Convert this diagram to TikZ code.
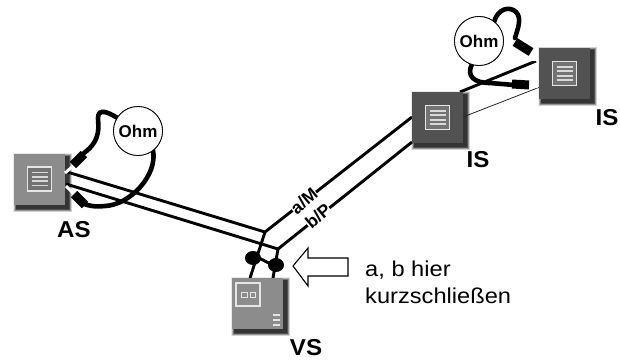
\documentclass[tikz,border=0pt]{standalone}
\usepackage{fontspec}
\setmainfont{Liberation Sans}
\usetikzlibrary{calc}
\tikzset{
 devlight/.style={draw=none,fill=black!45,minimum size=51pt,inner sep=0pt,outer sep=0pt},
 devdark/.style={draw=none,fill=black!68,minimum size=51pt,inner sep=0pt,outer sep=0pt},
 wire/.style={line width=2.9pt,black},
 thinwire/.style={line width=0.8pt,black!85},
 cable/.style={line width=4.6pt,black,line cap=round},
 plug/.style={line width=9pt,black},
 tip/.style={line width=3pt,white},
 ohmc/.style={circle,draw=black,line width=0.8pt,fill=white,minimum size=49pt,inner sep=0pt,font=\bfseries\fontsize{17}{17}\selectfont},
 lab/.style={font=\bfseries\fontsize{23}{23}\selectfont,inner sep=0pt,xscale=1.05},
 wirelab/.style={font=\bfseries\fontsize{17.5}{17.5}\selectfont,inner sep=0.2pt,rotate=40,fill=white},
 txt/.style={font=\fontsize{21.5}{21.5}\selectfont,inner sep=0pt,anchor=base west,xscale=1.1},
 arrowbox/.style={draw=black,line width=1.1pt,fill=white,line join=miter},
 iconframe/.style={draw=white!90!black,line width=1.7pt},
 iconbar/.style={white!85!black,line width=1.7pt}
}
\newcommand{\devshadow}[2]{%
 \foreach \d/\o in {8/0.08,7/0.10,6/0.14,5/0.18,4/0.22,3/0.30,2/0.35}{%
  \fill[black,opacity=\o] ({#1+3-\d/2},{#2+3-\d/2}) rectangle ({#1+51+3+\d/2},{#2+51+3+\d/2});}}
\newcommand{\listicon}[1]{%
 \fill[black!55] ($(#1)+(-12pt,-12pt)$) rectangle ($(#1)+(12pt,12pt)$);
 \draw[iconframe] ($(#1)+(-12pt,-12pt)$) rectangle ($(#1)+(12pt,12pt)$);
 \foreach \s in {-6.6,-2.2,2.2,6.6}{\draw[iconbar] ($(#1)+(-8pt,\s pt)$) -- ($(#1)+(8pt,\s pt)$);}}
\begin{document}
\begin{tikzpicture}[x=1pt,y=-1pt]
\useasboundingbox (0,0) rectangle (620,361);
% shadows
\devshadow{14}{154}
\devshadow{232}{278}
\devshadow{412}{92}
\devshadow{539}{48}
% junctions and free ends
\coordinate (ja) at (265,232);
\coordinate (jb) at (278,249);
\coordinate (asa) at (64,171);
\coordinate (asb) at (66,184);
\coordinate (isa) at (412,117);
\coordinate (isb) at (412,142);
\coordinate (is2a) at (536,61);
\coordinate (is2b) at (540,87);
\coordinate (isat) at (460,92);
\coordinate (isbt) at (463,117);
\coordinate (vsa) at (250,278);
\coordinate (vsb) at (273,278);
% wires
\draw[wire] (asa) -- (ja);
\draw[wire] (asb) -- (jb);
\draw[wire] (ja) -- (isa);
\draw[wire] (jb) -- (isb);
\draw[wire] (isat) -- (is2a);
\draw[thinwire] (isbt) -- (is2b);
\draw[wire] (ja) -- (vsa);
\draw[wire] (jb) -- (vsb);
% short-circuit
\fill[black] (253,258) ellipse (8 and 7);
\fill[black] (276,265) ellipse (8 and 7);
\draw[line width=3pt] (253,258) .. controls (262,256) and (265,264) .. (276,265);
% devices
\node[devlight] (as) at (39.5,179) {};
\node[devlight] (vs) at (257.5,303) {};
\node[devdark] (is1) at (437.5,117.5) {};
\node[devdark] (is2) at (564.5,73.5) {};
\listicon{as}
\listicon{is1}
\listicon{is2}
\draw[iconframe] (236,283) rectangle (260,306);
\draw[white!90!black,line width=1pt] (241,292) rectangle (247,297);
\draw[white!90!black,line width=1pt] (250,292) rectangle (255,297);
\foreach \s in {315,320,325}{\draw[white!90!black,line width=1.8pt] (273,\s) -- (280,\s);}
% wire labels
\node[wirelab] (am) at (304,201) {a/M};
\node[wirelab] (bp) at (318,216) {b/P};
% Ohm meters
\node[ohmc] (ohm1) at (138,131) {Ohm};
\node[ohmc] (ohm2) at (479,41) {Ohm};
% AS leads
\draw[cable] (84,153) .. controls (102,140) and (98,125) .. (98,118) .. controls (98,108) and (108,112) .. (ohm1);
\draw[cable] (153,150) .. controls (158,175) and (130,205) .. (105,206) .. controls (95,207) and (88,206) .. (82,203);
\node[ohmc] at (ohm1) {Ohm};
\draw[plug] (73,165) -- (84,154);
\draw[plug] (74,194) -- (85,205);
\draw[tip] (65,173) -- (72,167);
\draw[tip] (66,186) -- (73,193);
% IS leads
\draw[cable] (494,22) .. controls (498,8) and (510,6) .. (516,12) .. controls (522,18) and (518,28) .. (515,38);
\draw[cable] (472,64) .. controls (466,76) and (474,83) .. (490,83) -- (514,85);
\node[ohmc] at (ohm2) {Ohm};
\draw[plug] (515,42) -- (531,52);
\draw[plug] (512,84) -- (529,85);
\draw[tip] (531,85) -- (538,87);
\draw[tip] (532,59) -- (538,60);
% labels
\node[lab] (aslab) at (74,230) {AS};
\node[lab] (vslab) at (306,348) {VS};
\node[lab] (is1lab) at (478,160) {IS};
\node[lab] (is2lab) at (607,118) {IS};
% arrow
\draw[arrowbox] (293,266) -- (308,248) -- (308,258) -- (348,258) -- (348,276) -- (308,276) -- (308,286) -- cycle;
\node[txt] (t1) at (365,276) {a, b hier};
\node[txt] (t2) at (365,303) {kurzschließen};
\end{tikzpicture}
\end{document}
